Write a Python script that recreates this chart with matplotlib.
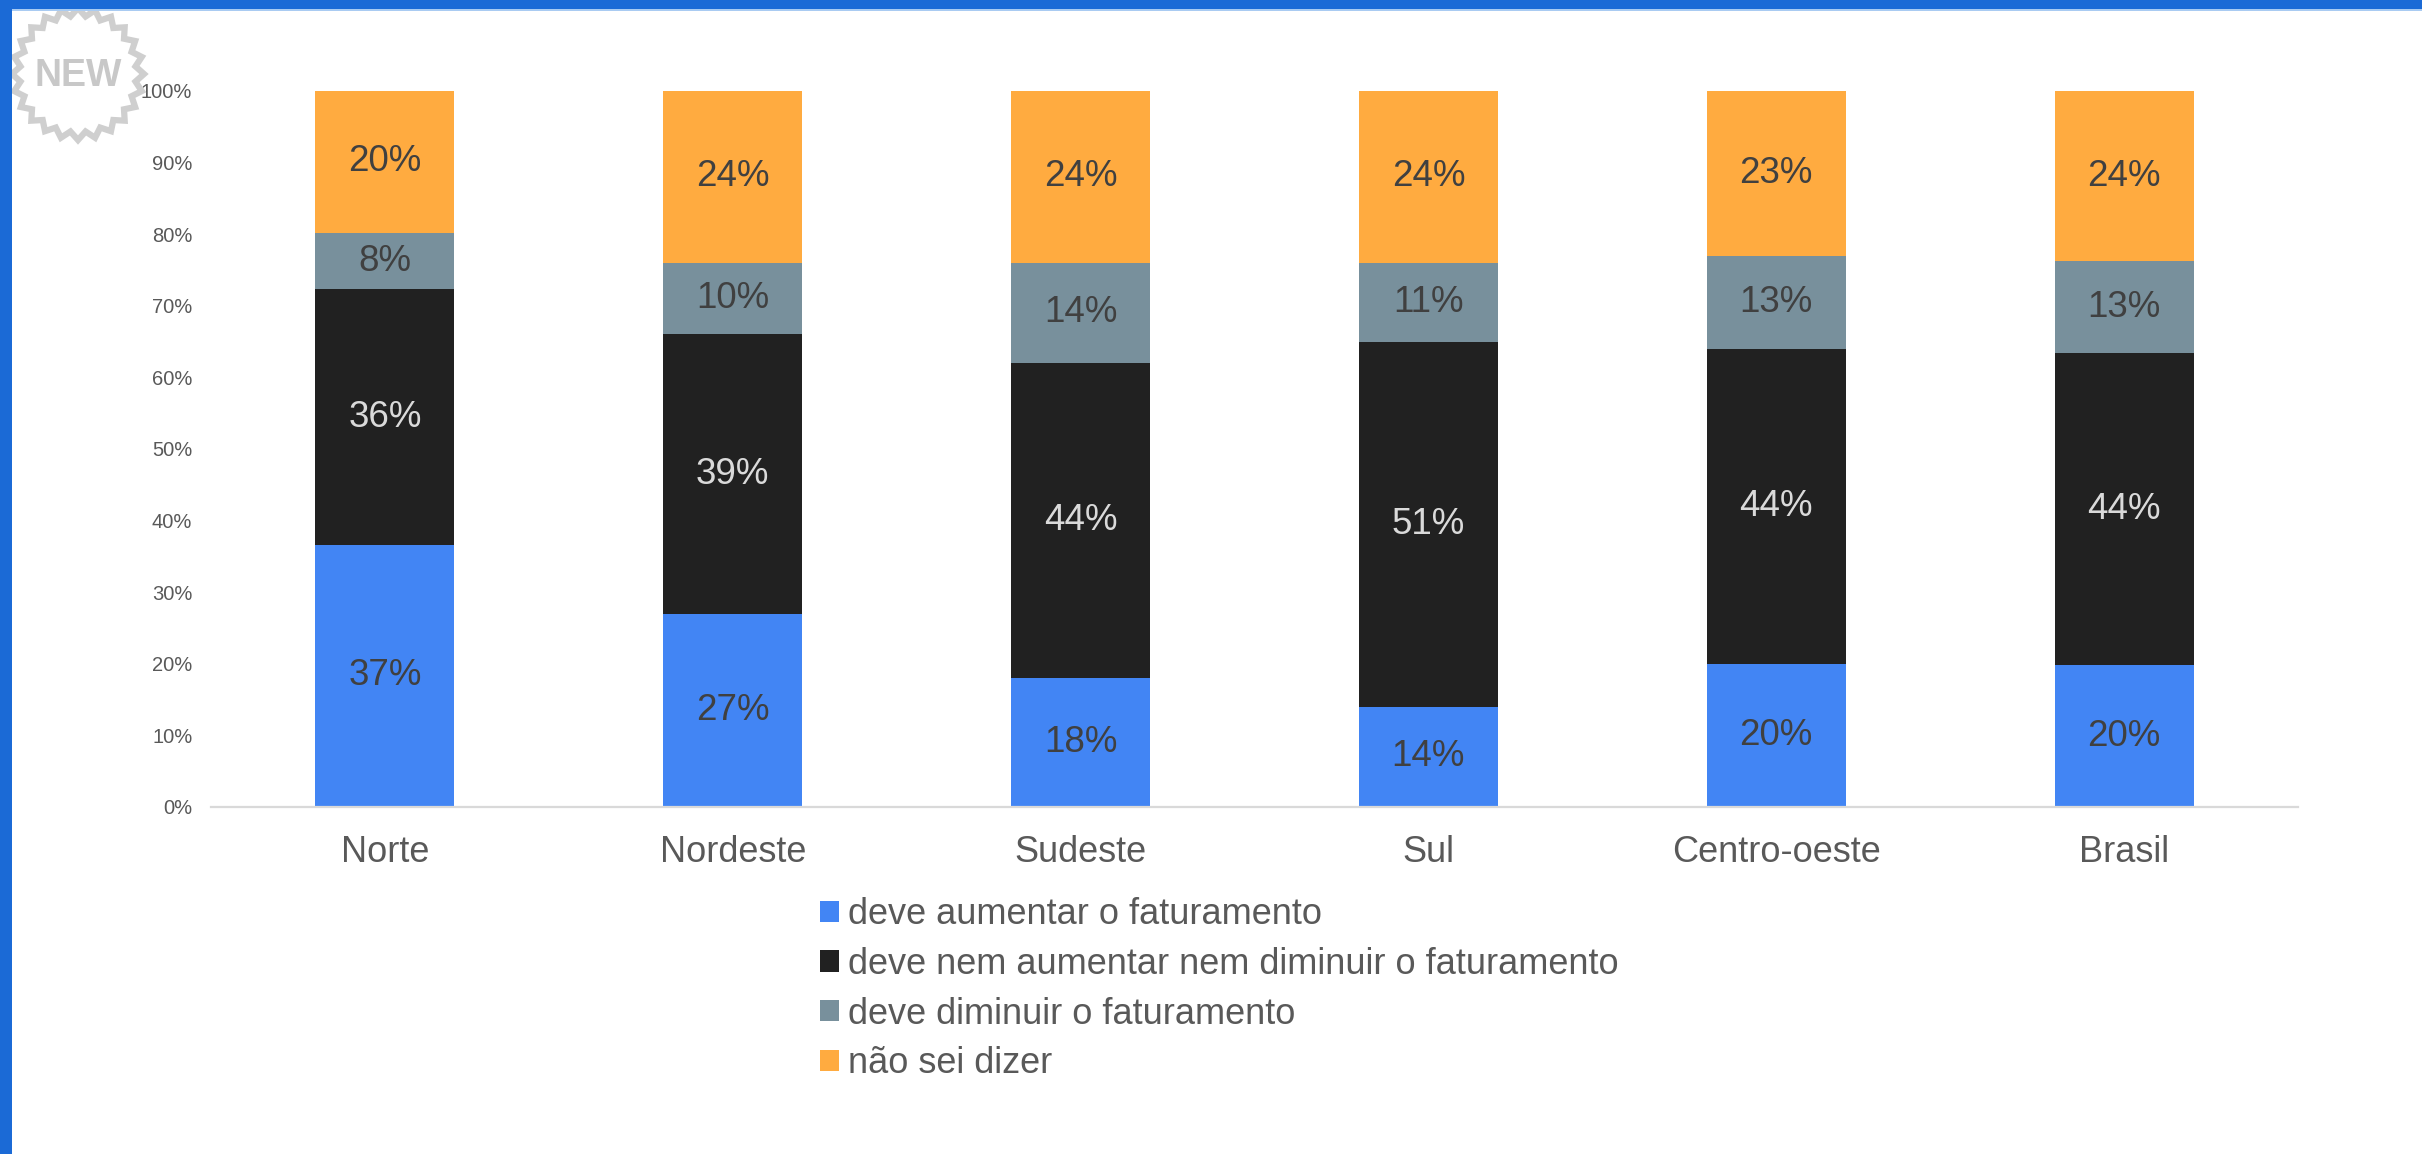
import numpy as np
import matplotlib
matplotlib.use('Agg')
import matplotlib.pyplot as plt
from matplotlib.patches import Rectangle, Polygon, Patch

plt.rcParams['font.family'] = ['Liberation Sans', 'DejaVu Sans']

# ---------------- data ----------------
categories = ['Norte', 'Nordeste', 'Sudeste', 'Sul', 'Centro-oeste', 'Brasil']
series_names = ['deve aumentar o faturamento',
                'deve nem aumentar nem diminuir o faturamento',
                'deve diminuir o faturamento',
                'não sei dizer']
aumentar = [37, 27, 18, 14, 20, 20]
nem_nem = [36, 39, 44, 51, 44, 44]
diminuir = [8, 10, 14, 11, 13, 13]
nao_sei = [20, 24, 24, 24, 23, 24]
ytick_values = [0, 10, 20, 30, 40, 50, 60, 70, 80, 90, 100]
ytick_labels = [f'{v}%' for v in ytick_values]

colors = ['#4285F4', '#212121', '#78909C', '#FFAB40']
label_colors = ['#404040', '#DADADA', '#404040', '#404040']

# ---------------- figure ----------------
W, H = 2422, 1154
fig = plt.figure(figsize=(W / 100, H / 100), dpi=100)
fig.patch.set_facecolor('white')

ax = fig.add_axes([211 / W, 1 - 807 / H, (2298 - 211) / W, (807 - 91) / H])

series = [aumentar, nem_nem, diminuir, nao_sei]
data = np.array(series, dtype=float)
shares = data / data.sum(axis=0) * 100.0
x = np.arange(len(categories))
bottom = np.zeros(len(categories))
for i, name in enumerate(series_names):
    bars = ax.bar(x, shares[i], width=0.4, bottom=bottom, color=colors[i],
                  label=name, edgecolor='none', zorder=2)
    ax.bar_label(bars, labels=[f'{v}%' for v in series[i]], label_type='center',
                 fontsize=26.5, color=label_colors[i])
    bottom += shares[i]

ax.set_xlim(-0.5, len(categories) - 0.5)
ax.set_ylim(0, 100)
ax.set_yticks(ytick_values)
ax.set_yticklabels(ytick_labels)
ax.set_xticks(x)
ax.set_xticklabels(categories)
ax.tick_params(axis='y', length=0, pad=13.5, labelsize=14.5, labelcolor='#595959')
ax.tick_params(axis='x', length=0, pad=20.5, labelsize=26, labelcolor='#595959')
for s in ['top', 'right', 'left']:
    ax.spines[s].set_visible(False)
ax.spines['bottom'].set_color('#D9D9D9')
ax.spines['bottom'].set_linewidth(1.6)
ax.set_facecolor('none')

handles = [Patch(facecolor=c, edgecolor='none') for c in colors]
fig.legend(handles, series_names, loc='upper left',
           bbox_to_anchor=(820 / W, 1 - 897 / H), frameon=False,
           fontsize=26, labelcolor='#595959', handlelength=0.53,
           handleheight=0.53, handletextpad=0.25, labelspacing=0.41,
           borderpad=0, borderaxespad=0)

# ---------------- decoration: window border and badge ----------------
fig.add_artist(Rectangle((0, 1 - 9 / H), 1, 9 / H, transform=fig.transFigure,
                         facecolor='#1B6AD6', edgecolor='none', zorder=5))
fig.add_artist(Rectangle((0, 1 - 11 / H), 1, 2 / H, transform=fig.transFigure,
                         facecolor='#A9CBF2', edgecolor='none', zorder=5))
fig.add_artist(Rectangle((0, 0), 12 / W, 1, transform=fig.transFigure,
                         facecolor='#1B6AD6', edgecolor='none', zorder=5))

cx, cy = 78, 74
n_pts = 24
ang = np.linspace(0, 2 * np.pi, 2 * n_pts, endpoint=False) + np.pi / 2
rad = np.where(np.arange(2 * n_pts) % 2 == 0, 66, 58)
px = cx + rad * np.cos(ang)
py = cy - rad * np.sin(ang)
verts = np.column_stack([px / W, 1 - py / H])
fig.add_artist(Polygon(verts, closed=True, transform=fig.transFigure,
                       facecolor='none', edgecolor='#CFCFCF', linewidth=4.5, zorder=4))
fig.text(cx / W, 1 - (cy + 2) / H, 'NEW', ha='center', va='center', fontsize=27,
         fontweight='bold', color='#C8C8C8', zorder=4)

fig.savefig('out.png', dpi=100)
